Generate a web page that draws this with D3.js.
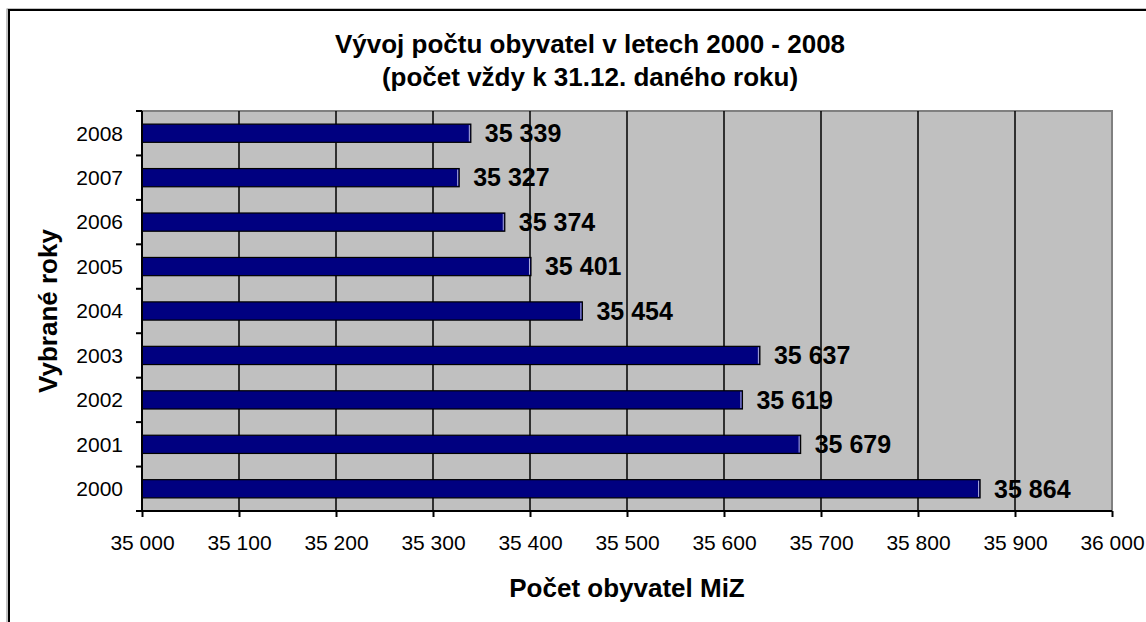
<!DOCTYPE html>
<html lang="cs">
<head>
<meta charset="UTF-8">
<title>Vývoj počtu obyvatel v letech 2000 - 2008</title>
<script src="https://d3js.org/d3.v7.min.js"></script>
<style>
    body { margin: 0; background: #fff; }
    svg { display: block; font-family: "Liberation Sans", Arial, sans-serif; }
    .tick text { font-size: 21px; fill: #000; }
    .bold { font-weight: bold; fill: #000; }
</style>
</head>
<body>
<svg width="1146" height="622"></svg>
<script>
    const years = ["2000", "2001", "2002", "2003", "2004", "2005", "2006", "2007", "2008"];
    const population = [35864, 35679, 35619, 35637, 35454, 35401, 35374, 35327, 35339];
    const xTicks = [35000, 35100, 35200, 35300, 35400, 35500, 35600, 35700, 35800, 35900, 36000];

    const data = years.map((y, i) => ({ year: y, value: population[i] }));

    const cz = d3.formatLocale({ decimal: ",", thousands: " ", grouping: [3], currency: ["", " Kč"] });
    const fmt = cz.format(",d");

    const margin = { top: 111, left: 142 };
    const width = 970, height = 400;

    const svg = d3.select("svg");

    // chart frame
    svg.append("rect")
        .attr("x", 7).attr("y", 9)
        .attr("width", 1160).attr("height", 640)
        .attr("fill", "none").attr("stroke", "#888").attr("stroke-width", 1);
    svg.append("rect")
        .attr("x", 9).attr("y", 10)
        .attr("width", 1160).attr("height", 640)
        .attr("fill", "none").attr("stroke", "#000").attr("stroke-width", 2);

    // title
    const title = svg.append("text").attr("class", "bold")
        .attr("text-anchor", "middle").style("font-size", "26px");
    title.append("tspan").attr("x", 590).attr("y", 53).text("Vývoj počtu obyvatel v letech 2000 - 2008");
    title.append("tspan").attr("x", 590).attr("y", 86).text("(počet vždy k 31.12. daného roku)");

    const g = svg.append("g").attr("transform", `translate(${margin.left},${margin.top})`);

    const x = d3.scaleLinear().domain([35000, 36000]).range([0, width]);
    const y = d3.scaleBand().domain(years.slice().reverse()).range([0, height]);

    // plot area
    g.append("rect")
        .attr("width", width).attr("height", height)
        .attr("fill", "#c0c0c0").attr("stroke", "#808080").attr("stroke-width", 2);

    // gridlines
    g.selectAll(".grid")
        .data(xTicks.slice(1, -1))
        .enter().append("line")
        .attr("x1", d => x(d)).attr("x2", d => x(d))
        .attr("y1", 0).attr("y2", height)
        .attr("stroke", "#000").attr("stroke-width", 1.5);

    // bars
    const barH = y.bandwidth() * 0.41;
    g.selectAll(".bar")
        .data(data)
        .enter().append("rect")
        .attr("x", 0)
        .attr("y", d => y(d.year) + (y.bandwidth() - barH) / 2)
        .attr("width", d => x(d.value))
        .attr("height", barH)
        .attr("fill", "#000080")
        .attr("stroke", "#000").attr("stroke-width", 1.2);

    // light edge on the right end of bars
    g.selectAll(".edge")
        .data(data)
        .enter().append("line")
        .attr("x1", d => x(d.value) - 1.5).attr("x2", d => x(d.value) - 1.5)
        .attr("y1", d => y(d.year) + (y.bandwidth() - barH) / 2 + 1)
        .attr("y2", d => y(d.year) + (y.bandwidth() + barH) / 2 - 1)
        .attr("stroke", "#b0b0e0").attr("stroke-width", 1);

    // value labels
    g.selectAll(".label")
        .data(data)
        .enter().append("text")
        .attr("class", "bold")
        .style("font-size", "25px")
        .attr("x", d => x(d.value) + 14)
        .attr("y", d => y(d.year) + y.bandwidth() / 2)
        .attr("dy", "0.35em")
        .text(d => fmt(d.value));

    // x axis
    const xAxis = g.append("g")
        .attr("transform", `translate(0,${height})`)
        .call(d3.axisBottom(x).tickValues(xTicks).tickFormat(fmt).tickSize(6).tickPadding(18));
    xAxis.select(".domain").attr("stroke", "#000").attr("stroke-width", 2).attr("d", `M0,0H${width}`);
    xAxis.selectAll(".tick line").attr("stroke", "#000").attr("stroke-width", 2);

    // y axis
    const yAxis = g.append("g")
        .call(d3.axisLeft(y).tickSize(0).tickPadding(19));
    yAxis.select(".domain").attr("stroke", "#000").attr("stroke-width", 2).attr("d", `M0,0V${height}`);
    yAxis.selectAll(".tick text").attr("dy", "0.35em");

    const bounds = y.domain().map(d => y(d)).concat([height]);
    g.selectAll(".ytick")
        .data(bounds)
        .enter().append("line")
        .attr("x1", -6).attr("x2", 0)
        .attr("y1", d => d).attr("y2", d => d)
        .attr("stroke", "#000").attr("stroke-width", 2);

    // axis titles
    svg.append("text").attr("class", "bold")
        .style("font-size", "26px")
        .attr("text-anchor", "middle")
        .attr("x", margin.left + width / 2).attr("y", 597)
        .text("Počet obyvatel MiZ");

    svg.append("text").attr("class", "bold")
        .style("font-size", "26px")
        .attr("text-anchor", "middle")
        .attr("transform", `translate(57,${margin.top + height / 2}) rotate(-90)`)
        .text("Vybrané roky");
</script>
</body>
</html>
